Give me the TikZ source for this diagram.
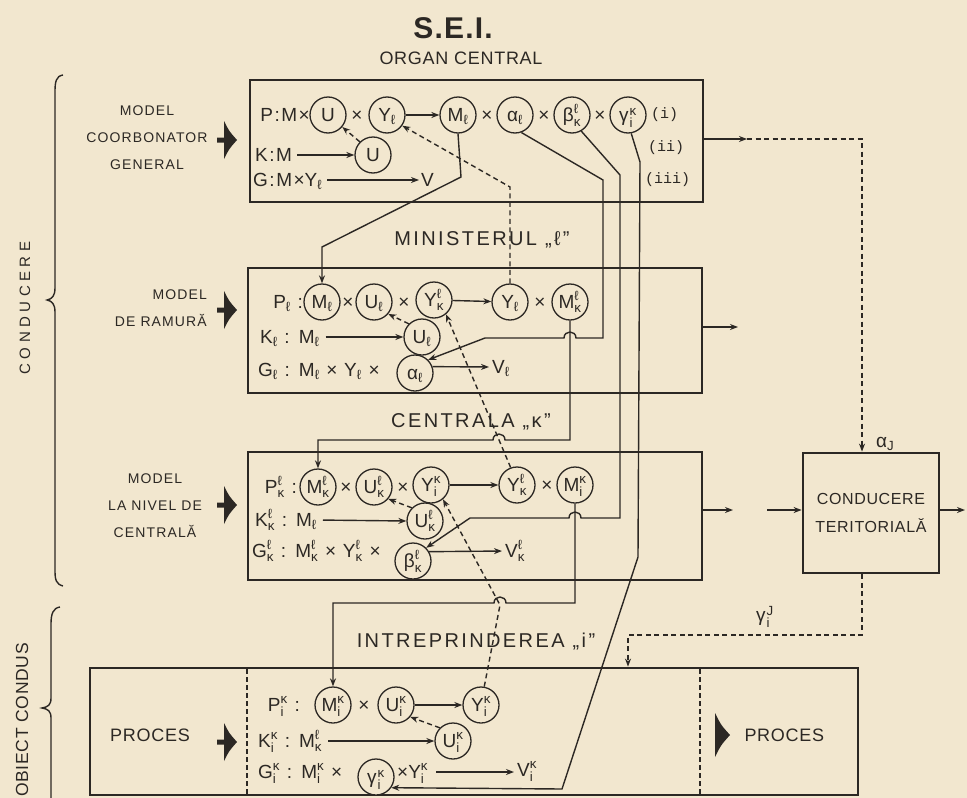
\documentclass[tikz,border=0pt]{standalone}
\usepackage{amsmath}
\usepackage{fontspec}
\setmainfont{Liberation Sans}[LetterSpace=8]
\newfontfamily\labf[LetterSpace=12]{Liberation Sans}
\newfontfamily\orgf[LetterSpace=4]{Liberation Sans}
\newfontfamily\sidef[LetterSpace=8]{Liberation Sans}
\newfontfamily\widef[LetterSpace=30]{Liberation Sans}
\newfontfamily\monof{Liberation Mono}
\usetikzlibrary{arrows.meta}
\definecolor{bg}{HTML}{F2E7CF}
\definecolor{ink}{HTML}{2C2824}
\newcommand\Bx[2]{\ensuremath{\text{#1}_{\text{#2}}}}
\newcommand\Qx[3]{\ensuremath{\text{#1}^{\text{#2}}_{\text{#3}}}}
\newcommand\Qg[2]{\ensuremath{\smash[b]{\text{γ}}\kern1pt^{\text{#1}}_{\text{#2}}}}
\newcommand\fm{\fontsize{19}{22}\selectfont}
\begin{document}
\begin{tikzpicture}[x=1pt,y=-1pt,
  ln/.style={draw=ink,line width=1.4pt},
  bx/.style={draw=ink,line width=2.8pt,inner sep=0pt},
  cir/.style={circle,draw=ink,line width=1.3pt,fill=bg,minimum size=36pt,inner sep=0pt,font=\fm,text=ink,text height=13pt,text depth=0pt},
  txt/.style={font=\fm,text=ink,inner sep=0pt,text height=13pt,text depth=0pt},
  mono/.style={font=\monof\fontsize{15}{18}\selectfont,text=ink,inner sep=0pt,anchor=west},
  lab/.style={font=\labf\fontsize{20}{22}\selectfont,text=ink,inner sep=1pt},
  side/.style={font=\sidef\fontsize{14}{27}\selectfont,text=ink,inner sep=0pt},
  arr/.style={ln,-{Stealth[length=8pt,width=6pt]}},
  dsh/.style={ln,dash pattern=on 5pt off 3.5pt},
  darr/.style={dsh,-{Stealth[length=8pt,width=6pt]}},
  fat/.pic={\fill[ink] (-7,-2.5) -- (0,-2.5) -- (0,-19) .. controls (5,-9) .. (13,0) .. controls (5,9) .. (0,19) -- (0,2.5) -- (-7,2.5) -- cycle;},
  fatb/.pic={\fill[ink] (0,-22) .. controls (6,-10) .. (15,0) .. controls (6,10) .. (0,22) -- cycle;}
]
\fill[bg] (0,0) rectangle (967,798);
\useasboundingbox (0,0) rectangle (967,798);

% titles
\node[font=\orgf\bfseries\fontsize{30}{32}\selectfont,text=ink] (sei) at (453,28) {S.E.I.};
\node[font=\orgf\fontsize{18}{20}\selectfont,text=ink] (org) at (461,58) {ORGAN CENTRAL};
\node[lab] (min) at (482,240) {MINISTERUL „ℓ”};
\node[lab] (cen) at (471,422) {CENTRALA „κ”};
\node[lab] (intr) at (476,642) {INTREPRINDEREA „i”};

% left labels
\node[side,align=center] (m1) at (147,138) {MODEL\\COORBONATOR\\GENERAL};
\node[side,align=right,anchor=east] (m2) at (207,308) {MODEL\\DE RAMURĂ};
\node[side,align=center] (m3) at (155,506) {MODEL\\LA NIVEL DE\\CENTRALĂ};
\pic (f1) at (224,140) {fat};
\pic (f2) at (224,310) {fat};
\pic (f3) at (224,505) {fat};
\node[font=\widef\fontsize{15}{18}\selectfont,text=ink,rotate=90] (cond) at (25,308) {CONDUCERE};
\node[font=\orgf\fontsize{17.5}{20}\selectfont,text=ink,rotate=90] (obc) at (22,720) {OBIECT CONDUS};
\draw[ln,line width=1.4pt] (63,75) .. controls (56,76) and (55,82) .. (55,92) -- (55,288) .. controls (55,296) and (52,299) .. (47,300) .. controls (52,301) and (55,304) .. (55,312) -- (55,570) .. controls (55,580) and (56,584) .. (63,586);
\draw[ln,line width=1.4pt] (60,607) .. controls (53,608) and (51,614) .. (51,624) -- (51,698) .. controls (51,705) and (48,707) .. (42,708) .. controls (48,709) and (51,711) .. (51,718) -- (51,798);

% boxes
\node[bx,minimum width=453pt,minimum height=122pt] (box1) at (476.5,141) {};
\node[bx,minimum width=454pt,minimum height=125pt] (box2) at (475,330.5) {};
\node[bx,minimum width=454pt,minimum height=128pt] (box3) at (475,516) {};
\node[bx,minimum width=768pt,minimum height=127pt] (box4) at (474,731.5) {};
\node[bx,minimum width=136pt,minimum height=120pt,align=center,font=\orgf\fontsize{16}{28}\selectfont,text=ink] (ter) at (871,513) {CONDUCERE\\TERITORIALĂ};
\draw[ink,line width=2.2pt,dash pattern=on 5pt off 3pt] (247,669) -- (247,794);
\draw[ink,line width=2.2pt,dash pattern=on 5pt off 3pt] (700,669) -- (700,794);

% box 1
\node[txt,anchor=east] (P1) at (310,115) {P:M×};
\node[cir] (U1) at (328,115) {U};
\node[txt] (X1) at (357,115) {×};
\node[cir] (Y1) at (387,115) {\Bx{Y}{ℓ}};
\node[cir] (M1) at (458,115) {\Bx{M}{ℓ}};
\node[txt] (X2) at (487,115) {×};
\node[cir] (A1) at (515,115) {\Bx{α}{ℓ}};
\node[txt] (X3) at (544,115) {×};
\node[cir] (B1) at (572,115) {\Qx{β}{ℓ}{κ}};
\node[txt] (X4) at (600,115) {×};
\node[cir] (G1) at (628,115) {\Qg{κ}{i}};
\node[mono] (R1) at (651,115) {(i)};
\node[txt,anchor=west] (K1) at (255,155) {K:M};
\node[cir] (U1b) at (373,155) {U};
\node[mono] (R2) at (648,148) {(ii)};
\node[txt,anchor=west] (G1t) at (253,180) {G:M×\Bx{Y}{ℓ}};
\node[txt,anchor=west] (V1) at (421,180) {V};
\node[mono] (R3) at (645,180) {(iii)};

% box 2
\node[txt,anchor=east] (P2) at (303,302) {\Bx{P}{ℓ} :};
\node[cir] (M2) at (322,302) {\Bx{M}{ℓ}};
\node[txt] (X5) at (348,302) {×};
\node[cir] (U2) at (374,302) {\Bx{U}{ℓ}};
\node[txt] (X6) at (404,302) {×};
\node[cir] (Yk2) at (434,300) {\Qx{Y}{ℓ}{κ}};
\node[cir] (Y2) at (510,302) {\Bx{Y}{ℓ}};
\node[txt] (X7) at (540,302) {×};
\node[cir] (Mk2) at (570,302) {\Qx{M}{ℓ}{κ}};
\node[txt,anchor=west] (K2) at (260,337) {\Bx{K}{ℓ} : \Bx{M}{ℓ}};
\node[cir] (U2b) at (422,337) {\Bx{U}{ℓ}};
\node[txt,anchor=west] (G2) at (258,370) {\Bx{G}{ℓ} : \Bx{M}{ℓ} × \Bx{Y}{ℓ} ×};
\node[cir] (A2) at (415,373) {\Bx{α}{ℓ}};
\node[txt,anchor=west] (V2) at (492,367) {\Bx{V}{ℓ}};

% box 3
\node[txt,anchor=east] (P3) at (297,487) {\Qx{P}{ℓ}{κ} :};
\node[cir] (M3) at (318,487) {\Qx{M}{ℓ}{κ}};
\node[txt] (X8) at (346,487) {×};
\node[cir] (U3) at (374,487) {\Qx{U}{ℓ}{κ}};
\node[txt] (X9) at (403,487) {×};
\node[cir] (Yi3) at (431,485) {\Qx{Y}{κ}{i}};
\node[cir] (Yk3) at (517,485) {\Qx{Y}{ℓ}{κ}};
\node[txt] (X10) at (547,485) {×};
\node[cir] (Mi3) at (575,485) {\Qx{M}{κ}{i}};
\node[txt,anchor=west] (K3) at (255,520) {\Qx{K}{ℓ}{κ} : \Bx{M}{ℓ}};
\node[cir] (U3b) at (425,521) {\Qx{U}{ℓ}{κ}};
\node[txt,anchor=west] (G3) at (252,551) {\Qx{G}{ℓ}{κ} : \Qx{M}{ℓ}{κ} × \Qx{Y}{ℓ}{κ} ×};
\node[cir] (B3) at (413,561) {\Qx{β}{ℓ}{κ}};
\node[txt,anchor=west] (V3) at (505,551) {\Qx{V}{ℓ}{κ}};

% box 4
\node[font=\orgf\fontsize{18}{20}\selectfont,text=ink] (pr1) at (150,735) {PROCES};
\pic (f4) at (224,742) {fat};
\pic (f5) at (715,735) {fatb};
\node[font=\orgf\fontsize{18}{20}\selectfont,text=ink,anchor=west] (pr2) at (741,735) {PROCES};
\node[txt,anchor=east] (P4) at (300,705) {\Qx{P}{κ}{i} :};
\node[cir] (M4) at (333,705) {\Qx{M}{κ}{i}};
\node[txt] (X11) at (364,705) {×};
\node[cir] (U4) at (396,705) {\Qx{U}{κ}{i}};
\node[cir] (Y4) at (481,705) {\Qx{Y}{κ}{i}};
\node[txt,anchor=west] (K4) at (258,741) {\Qx{K}{κ}{i} : \Qx{M}{ℓ}{κ}};
\node[cir] (U4b) at (453,741) {\Qx{U}{κ}{i}};
\node[txt,anchor=west] (G4t) at (258,772) {\Qx{G}{κ}{i} : \Qx{M}{κ}{i} ×};
\node[cir] (G4) at (376,777) {\Qg{κ}{i}};
\node[txt,anchor=west] (XY4) at (397,772) {×\Qx{Y}{κ}{i}};
\node[txt,anchor=west] (V4) at (517,770) {\Qx{V}{κ}{i}};

% labels near territorial box
\node[txt,anchor=west] (aj) at (876,441) {\Bx{α}{J}};
\node[txt] (gj) at (765,615) {\Qg{J}{i}};

% arrows inside boxes
\draw[arr] (Y1) -- (M1);
\draw[arr,shorten <=5pt] (K1.east) -- (U1b.west);
\draw[arr,shorten <=5pt,shorten >=2pt] (G1t.east) -- (V1.west);
\draw[darr] (U1b.north west) -- (U1.-40);
\draw[arr] (Yk2) -- (Y2);
\draw[arr,shorten <=6pt] (K2.east) -- (U2b.west);
\draw[arr,shorten >=3pt] (A2.20) -- (V2.west);
\draw[darr] (U2b.north west) -- (U2.-40);
\draw[arr] (Yi3) -- (Yk3);
\draw[arr,shorten <=6pt] (K3.east) -- (U3b.west);
\draw[arr,shorten >=3pt] (B3.30) -- (V3.west);
\draw[darr] (U3b.north west) -- (U3.-40);
\draw[arr] (U4) -- (Y4);
\draw[arr,shorten <=6pt] (K4.east) -- (U4b.west);
\draw[arr,shorten <=8pt,shorten >=3pt] (XY4.east) -- (V4.west |- XY4.east);
\draw[darr] (U4b.north west) -- (U4.-40);

% connectors between levels
\draw[arr] (M1.south) -- (461,177) -- (322,247) -- (M2.north);
\draw[arr] (A1.-70) -- (603,180) -- (603,338) -- (576,338) .. controls (576,330) and (564,330) .. (564,338) -- (485,338) -- (A2.45);
\draw[arr] (B1.-60) -- (620,175) -- (620,518) -- (581,518) .. controls (581,510) and (569,510) .. (569,518) -- (470,518) -- (B3.45);
\draw[arr] (G1.-80) -- (640,162) -- (638,557) -- (562,789) -- (G4.-35);
\draw[arr] (Mk2.south) -- (570,440) -- (505,440) .. controls (505,432) and (493,432) .. (493,440) -- (318,440) -- (M3.north);
\draw[arr] (Mi3.south) -- (575,603) -- (506,603) .. controls (506,595) and (494,595) .. (494,603) -- (333,603) -- (M4.north);
\draw[darr] (Y2.north) -- (510,187) -- (Y1.-35);
\draw[darr] (Yk3.110) -- (Yk2.-50);
\draw[darr] (Y4.80) -- (490,657) -- (500,605) -- (Yi3.-50);

% right side
\coordinate (r1) at (747,139);
\draw[arr] (box1.east |- r1) -- (r1);
\draw[darr] (r1) -- (862,139) -- (ter.north -| 862,0);
\coordinate (r2) at (738,327);
\draw[arr] (box2.east |- r2) -- (r2);
\coordinate (r3) at (733,510);
\draw[arr] (box3.east |- r3) -- (r3);
\coordinate (r4) at (767,510);
\draw[arr] (r4) -- (ter.west |- r4);
\coordinate (r5) at (965,510);
\draw[arr] (ter.east |- r5) -- (r5);
\draw[darr] (ter.south -| 862,0) -- (862,635) -- (628,635) -- (box4.north -| 628,0);
\end{tikzpicture}
\end{document}
